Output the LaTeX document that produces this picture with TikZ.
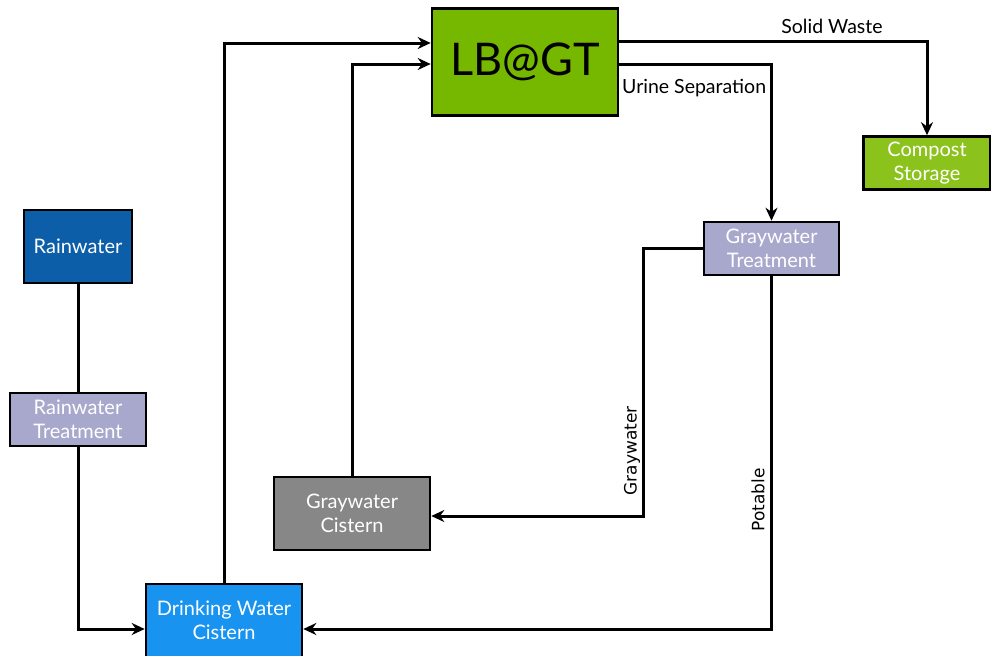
\documentclass[tikz,border=0pt]{standalone}
\usepackage{fontspec}
\setmainfont{Lato}
\newfontfamily\labfont{DejaVu Sans}
\usetikzlibrary{arrows.meta,calc}
\definecolor{lbgreen}{RGB}{118,184,0}
\definecolor{compgreen}{RGB}{140,194,28}
\definecolor{rainblue}{RGB}{12,94,168}
\definecolor{lav}{RGB}{168,168,204}
\definecolor{cgray}{RGB}{135,135,135}
\definecolor{dblue}{RGB}{24,148,240}
\tikzset{
  box/.style={draw=black, line width=2.6pt, inner sep=0pt, align=center, text=white, font=\fontsize{20}{24}\selectfont},
  conn/.style={line width=3pt, draw=black},
  arr/.style={conn, -{Stealth[length=13pt,width=12pt]}},
  lab/.style={font=\fontsize{19.5}{22}\selectfont, text=black, inner sep=0pt},
  rlab/.style={font=\labfont\fontsize{17}{19}\selectfont, text=black, inner sep=0pt, rotate=90}
}
\begin{document}
\begin{tikzpicture}[x=1pt,y=1pt]
\useasboundingbox (0,0) rectangle (991,-656);
\node[box, fill=lbgreen, minimum width=186pt, minimum height=107pt, text=black, font=\fontsize{45}{48}\selectfont] (lbgt) at (525,-62) {LB@GT};
\node[box, fill=compgreen, minimum width=127pt, minimum height=53pt] (compost) at (927,-163) {Compost\\Storage};
\node[box, fill=rainblue, minimum width=108pt, minimum height=73pt] (rain) at (78,-246.5) {Rainwater};
\node[box, fill=lav, minimum width=136pt, minimum height=53pt] (rtreat) at (78,-419.5) {Rainwater\\Treatment};
\node[box, fill=lav, minimum width=135pt, minimum height=53pt] (gtreat) at (771.5,-248.5) {Graywater\\Treatment};
\node[box, fill=cgray, minimum width=156pt, minimum height=73pt] (gcist) at (352,-513.5) {Graywater\\Cistern};
\node[box, fill=dblue, minimum width=156pt, minimum height=73pt] (dcist) at (224,-620.5) {Drinking Water\\Cistern};

\coordinate (gtturn) at ($(gtreat.west)+(-59,0)$);
\draw[arr] (dcist.north) |- ($(lbgt.west)+(0,19)$);
\draw[arr] (gcist.north) |- ($(lbgt.west)+(0,-2)$);
\draw[arr] ($(lbgt.east)+(0,21)$) -| (compost.north);
\draw[arr] ($(lbgt.east)+(0,-2)$) -| (gtreat.north);
\draw[arr] (gtreat.west) -- (gtturn) |- ($(gcist.east)+(0,-2.5)$);
\draw[arr] (gtreat.south) |- ($(dcist.east)+(0,-8.5)$);
\draw[conn] (rain.south) -- (rtreat.north);
\draw[arr] (rtreat.south) |- ($(dcist.west)+(0,-8.5)$);

\node[lab] (sw) at (832,-26) {Solid Waste};
\node[lab, anchor=west] (us) at (622,-88) {Urine Separation};
\node[rlab] (gwl) at (632,-451) {Graywater};
\node[rlab] (pot) at (758,-500) {Potable};
\end{tikzpicture}
\end{document}
